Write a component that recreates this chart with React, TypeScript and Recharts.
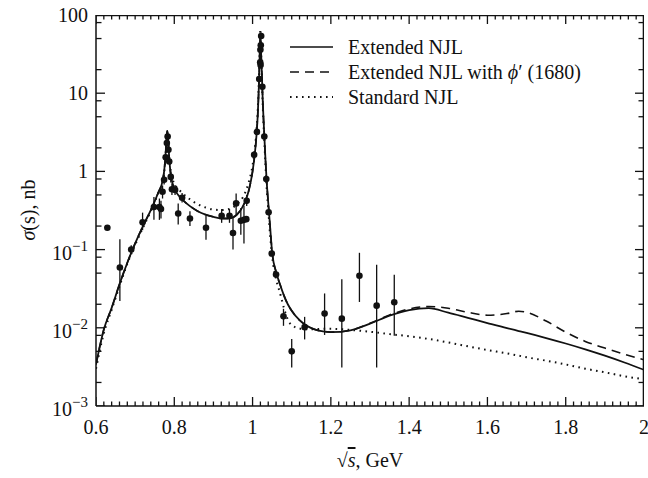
import React from 'react';
import { ComposedChart, Line, Scatter, ErrorBar, XAxis, YAxis, Legend } from 'recharts';

const FONT = '"Liberation Serif", "Times New Roman", Times, serif';

// ---- curves ----
const curveX = [
  0.6, 0.62, 0.64, 0.66, 0.68, 0.7, 0.72, 0.74, 0.76,
  0.77, 0.774, 0.777, 0.779, 0.781, 0.782, 0.783, 0.785, 0.787, 0.79, 0.795,
  0.8, 0.81, 0.82, 0.84, 0.86, 0.88, 0.9, 0.92, 0.94, 0.96, 0.98, 0.99,
  1.0, 1.005, 1.01, 1.013, 1.016, 1.018, 1.019, 1.02, 1.021, 1.022, 1.024, 1.026, 1.028, 1.03, 1.033, 1.036, 1.04, 1.045, 1.05,
  1.06, 1.07, 1.08, 1.09, 1.1, 1.12, 1.14, 1.16, 1.18, 1.2,
  1.25, 1.3, 1.35, 1.4, 1.45, 1.5, 1.55, 1.6, 1.65, 1.68, 1.7, 1.75, 1.8, 1.85, 1.9, 1.95, 2.0,
];

const extendedNJL = [
  0.0034, 0.0095, 0.018, 0.036, 0.068, 0.12, 0.2, 0.32, 0.55,
  0.75, 1.0, 1.45, 2.1, 3.0, 3.3, 3.1, 2.2, 1.5, 1.0, 0.72,
  0.6, 0.5, 0.44, 0.36, 0.31, 0.28, 0.262, 0.25, 0.25, 0.28, 0.4, 0.56,
  1.0, 1.55, 2.9, 5.0, 12, 28, 45, 57, 46, 30, 16, 8, 4.6, 2.9, 1.4, 0.75, 0.4, 0.19, 0.092,
  0.052, 0.036, 0.026, 0.02, 0.0165, 0.0125, 0.0105, 0.0095, 0.009, 0.0088,
  0.0093, 0.0113, 0.0143, 0.0168, 0.0178, 0.0156, 0.0134, 0.0115, 0.0099, 0.0091, 0.0086, 0.0074, 0.0063, 0.0053, 0.0044, 0.0036, 0.0029,
];

const extendedPhi = [
  0.0034, 0.0095, 0.018, 0.036, 0.068, 0.12, 0.2, 0.32, 0.55,
  0.75, 1.0, 1.45, 2.1, 3.0, 3.3, 3.1, 2.2, 1.5, 1.0, 0.72,
  0.6, 0.5, 0.44, 0.36, 0.31, 0.28, 0.262, 0.25, 0.25, 0.28, 0.4, 0.56,
  1.0, 1.55, 2.9, 5.0, 12, 28, 45, 57, 46, 30, 16, 8, 4.6, 2.9, 1.4, 0.75, 0.4, 0.19, 0.092,
  0.052, 0.036, 0.026, 0.02, 0.0165, 0.0125, 0.0105, 0.0095, 0.009, 0.0088,
  0.0093, 0.0114, 0.0146, 0.0174, 0.0187, 0.0178, 0.0158, 0.0145, 0.0152, 0.0163, 0.0158, 0.0122, 0.0088, 0.0067, 0.0055, 0.0046, 0.0039,
];

const standardNJL = [
  0.003, 0.0085, 0.017, 0.034, 0.066, 0.115, 0.19, 0.31, 0.54,
  0.72, 0.95, 1.4, 2.0, 2.7, 3.0, 2.8, 2.1, 1.55, 1.1, 0.82,
  0.7, 0.6, 0.53, 0.44, 0.38, 0.345, 0.325, 0.32, 0.33, 0.38, 0.52, 0.72,
  1.2, 1.8, 3.3, 5.8, 14, 32, 52, 66, 52, 32, 14, 7, 4, 2.5, 1.2, 0.62, 0.33, 0.15, 0.082,
  0.042, 0.028, 0.018, 0.0128, 0.0108, 0.0098, 0.0096, 0.0096, 0.0097, 0.0097,
  0.0094, 0.0089, 0.0083, 0.0078, 0.0072, 0.0065, 0.0058, 0.0052, 0.0047, 0.0044, 0.0042, 0.0038, 0.0034, 0.003, 0.0027, 0.0024, 0.0022,
];

// ---- experimental points ----
const dataX = [
  0.629, 0.661, 0.69, 0.719, 0.748, 0.762, 0.766, 0.77, 0.774, 0.778, 0.781, 0.783, 0.785, 0.787,
  0.791, 0.794, 0.802, 0.81, 0.82, 0.84, 0.881, 0.921, 0.941, 0.95, 0.958, 0.97, 0.978, 0.984, 0.985,
  1.004, 1.011, 1.017, 1.0195, 1.0205, 1.02, 1.021, 1.022, 1.025, 1.03, 1.035, 1.041, 1.049, 1.06,
  1.079, 1.1, 1.133, 1.184, 1.228, 1.273, 1.317, 1.362,
];
const dataY = [
  0.19, 0.059, 0.1, 0.223, 0.35, 0.35, 0.33, 0.55, 0.78, 1.52, 2.3, 2.8, 1.89, 1.34,
  0.85, 0.59, 0.58, 0.29, 0.46, 0.25, 0.19, 0.27, 0.27, 0.163, 0.39, 0.234, 0.24, 0.245, 0.42,
  1.63, 3.2, 15.2, 24.9, 23, 36, 41, 54, 12.1, 2.8, 0.8, 0.3, 0.089, 0.048,
  0.014, 0.005, 0.0102, 0.0152, 0.0131, 0.0464, 0.0192, 0.0212,
];
const errLow = [
  0.19, 0.022, 0.088, 0.177, 0.24, 0.24, 0.25, 0.45, 0.68, 1.52, 2.3, 2.8, 1.89, 1.34,
  0.72, 0.5, 0.5, 0.21, 0.4, 0.2, 0.134, 0.22, 0.22, 0.1, 0.28, 0.155, 0.12, 0.245, 0.36,
  1.63, 3.2, 15.2, 24.9, 23, 36, 41, 54, 12.1, 2.8, 0.8, 0.3, 0.089, 0.048,
  0.0106, 0.0031, 0.0071, 0.0081, 0.0031, 0.0214, 0.0031, 0.0079,
];
const errHigh = [
  0.19, 0.136, 0.114, 0.297, 0.47, 0.45, 0.42, 0.66, 0.9, 1.52, 2.3, 2.8, 1.89, 1.34,
  1.0, 0.7, 0.67, 0.39, 0.53, 0.31, 0.27, 0.33, 0.33, 0.27, 0.52, 0.34, 0.36, 0.245, 0.5,
  1.63, 3.2, 15.2, 24.9, 23, 36, 41, 54, 12.1, 2.8, 0.8, 0.3, 0.089, 0.048,
  0.0175, 0.0072, 0.0138, 0.0275, 0.0418, 0.091, 0.064, 0.0477,
];

// ---- ticks ----
const xMin = 0.6;
const xMax = 2;
const yMin = 0.001;
const yMax = 100;
const xMajorTicks = [0.6, 0.8, 1, 1.2, 1.4, 1.6, 1.8, 2];
const xTickLabels = ['0.6', '0.8', '1', '1.2', '1.4', '1.6', '1.8', '2'];
const yMajorTicks = [0.001, 0.01, 0.1, 1, 10, 100];
const yTickBases = ['10', '10', '10', '1', '10', '100'];
const yTickExps = ['\u22123', '\u22122', '\u22121', '', '', ''];
const yMinorFactors = [2, 5, 8];

const legendLabels = ['Extended NJL', 'Extended NJL with ', 'Standard NJL'];

const xTicks = Array.from({ length: 71 }, (_, i) => Number((0.6 + i * 0.02).toFixed(2)));
const yTicks: number[] = [];
for (let e = -3; e <= 1; e++) {
  yTicks.push(Number((10 ** e).toPrecision(3)));
  yMinorFactors.forEach((f) => yTicks.push(Number((f * 10 ** e).toPrecision(3))));
}
yTicks.push(100);

const xMajorIndex = (v: number) => xMajorTicks.findIndex((m) => Math.abs(m - v) < 1e-6);
const yMajorIndex = (v: number) => yMajorTicks.findIndex((m) => Math.abs(m - v) / m < 1e-6);

const curveRows = curveX.map((x, i) => ({ x, ext: extendedNJL[i], phi: extendedPhi[i], std: standardNJL[i] }));
const pointRows = dataX.map((x, i) => ({ x, y: dataY[i], err: [dataY[i] - errLow[i], errHigh[i] - dataY[i]] }));

// tick-mark anchors (placed through the chart's own scales)
const bottomMarks = xTicks.map((v) => ({ x: v, y: yMin, major: xMajorIndex(v) >= 0 }));
const topMarks = xTicks.map((v) => ({ x: v, y: yMax, major: xMajorIndex(v) >= 0 }));
const leftMarks = yTicks.map((v) => ({ x: xMin, y: v, major: yMajorIndex(v) >= 0 }));
const rightMarks = yTicks.map((v) => ({ x: xMax, y: v, major: yMajorIndex(v) >= 0 }));
const topEdge = [{ x: xMin, y: yMax }, { x: xMax, y: yMax }];
const rightEdge = [{ x: xMax, y: yMin }, { x: xMax, y: yMax }];

const MAJ = 9;
const MIN_X = 4.5;
const MIN_Y = 5.5;
const TICK_STYLE = { stroke: '#111111', strokeWidth: 1.3 };

const BottomMark = (p: any) => (
  <line x1={p.cx} x2={p.cx} y1={p.cy} y2={p.cy - (p.payload.major ? MAJ : MIN_X)} {...TICK_STYLE} />
);
const TopMark = (p: any) => (
  <line x1={p.cx} x2={p.cx} y1={p.cy} y2={p.cy + (p.payload.major ? MAJ : MIN_X)} {...TICK_STYLE} />
);
const LeftMark = (p: any) => (
  <line x1={p.cx} x2={p.cx + (p.payload.major ? MAJ : MIN_Y)} y1={p.cy} y2={p.cy} {...TICK_STYLE} />
);
const RightMark = (p: any) => (
  <line x1={p.cx} x2={p.cx - (p.payload.major ? MAJ : MIN_Y)} y1={p.cy} y2={p.cy} {...TICK_STYLE} />
);
const NoShape = () => <g />;

// axis tick labels
const BottomTick = (props: any) => {
  const { x, y, payload } = props;
  const i = xMajorIndex(payload.value);
  return (
    <g>
      {i >= 0 ? (
        <text x={x} y={y + 28} textAnchor="middle" fontFamily={FONT} fontSize={20} fill="#111">
          {xTickLabels[i]}
        </text>
      ) : null}
    </g>
  );
};

const LeftTick = (props: any) => {
  const { x, y, payload } = props;
  const i = yMajorIndex(payload.value);
  return (
    <g>
      {i >= 0 ? (
        yTickExps[i] ? (
          <text x={x - 8} y={y + 10} textAnchor="end" fontFamily={FONT} fontSize={20} fill="#111">
            {yTickBases[i]}
            <tspan dy={-9} fontSize={15}>
              {yTickExps[i]}
            </tspan>
          </text>
        ) : (
          <text x={x - 8} y={y + 7} textAnchor="end" fontFamily={FONT} fontSize={20} fill="#111">
            {yTickBases[i]}
          </text>
        )
      ) : null}
    </g>
  );
};

const XTitle = () => (
  <text x={370} y={467} textAnchor="middle" fontFamily={FONT} fontSize={20} fill="#111">
    {'\u221A'}
    <tspan fontStyle="italic" textDecoration="overline">s</tspan>
    {', GeV'}
  </text>
);

const YTitle = () => (
  <text x={35} y={210} transform="rotate(-90 35 210)" textAnchor="middle" fontFamily={FONT} fontSize={20} fill="#111">
    <tspan fontStyle="italic">{'\u03C3'}</tspan>
    {'(s), nb'}
  </text>
);

const LegendBox = () => {
  const dashes = [undefined, '9 6', '1.6 4.4'];
  return (
    <svg width={360} height={80} style={{ display: 'block', overflow: 'visible' }}>
      {legendLabels.map((lab, i) => {
        const cy = 14 + 25 * i;
        return (
          <g key={i}>
            <line x1={8} x2={51} y1={cy} y2={cy} stroke="#111" strokeWidth={i === 2 ? 2 : 1.7} strokeDasharray={dashes[i]} />
            <text x={66} y={cy + 7} fontFamily={FONT} fontSize={20} fill="#111">
              {lab}
              {i === 1 ? <tspan fontStyle="italic">{'\u03D5'}</tspan> : null}
              {i === 1 ? '\u2032 (1680)' : null}
            </text>
          </g>
        );
      })}
    </svg>
  );
};

export default function App() {
  return (
    <div style={{ position: 'absolute', left: 0, top: 0, width: 648, height: 478, background: '#fff' }}>
      <ComposedChart width={648} height={478} data={curveRows} margin={{ top: 15, right: 4, left: 0, bottom: 0 }}>
        <XAxis
          xAxisId="b"
          dataKey="x"
          type="number"
          domain={[xMin, xMax]}
          allowDataOverflow
          ticks={xTicks}
          interval={0}
          tickSize={0}
          tickMargin={0}
          tickLine={false}
          tick={<BottomTick />}
          height={72}
          axisLine={{ stroke: '#111', strokeWidth: 1.5 }}
          label={<XTitle />}
        />
        <YAxis
          yAxisId="l"
          type="number"
          scale="log"
          domain={[yMin, yMax]}
          allowDataOverflow
          ticks={yTicks}
          interval={0}
          tickSize={0}
          tickMargin={0}
          tickLine={false}
          tick={<LeftTick />}
          width={96}
          axisLine={{ stroke: '#111', strokeWidth: 1.5 }}
          label={<YTitle />}
        />
        <Legend
          content={<LegendBox />}
          layout="vertical"
          align="center"
          verticalAlign="middle"
          wrapperStyle={{ left: 282, top: 33, width: 360, height: 80 }}
        />
        <Scatter xAxisId="b" yAxisId="l" data={topEdge} dataKey="y" line={{ stroke: '#111', strokeWidth: 2.6 }} shape={NoShape} legendType="none" isAnimationActive={false} />
        <Scatter xAxisId="b" yAxisId="l" data={rightEdge} dataKey="y" line={{ stroke: '#111', strokeWidth: 2.6 }} shape={NoShape} legendType="none" isAnimationActive={false} />
        <Scatter xAxisId="b" yAxisId="l" data={bottomMarks} dataKey="y" shape={BottomMark} legendType="none" isAnimationActive={false} />
        <Scatter xAxisId="b" yAxisId="l" data={topMarks} dataKey="y" shape={TopMark} legendType="none" isAnimationActive={false} />
        <Scatter xAxisId="b" yAxisId="l" data={leftMarks} dataKey="y" shape={LeftMark} legendType="none" isAnimationActive={false} />
        <Scatter xAxisId="b" yAxisId="l" data={rightMarks} dataKey="y" shape={RightMark} legendType="none" isAnimationActive={false} />
        <Line xAxisId="b" yAxisId="l" type="monotone" dataKey="std" stroke="#111" strokeWidth={2} strokeDasharray="1.6 4.4" dot={false} activeDot={false} isAnimationActive={false} />
        <Line xAxisId="b" yAxisId="l" type="monotone" dataKey="phi" stroke="#111" strokeWidth={1.6} strokeDasharray="9 6" dot={false} activeDot={false} isAnimationActive={false} />
        <Line xAxisId="b" yAxisId="l" type="monotone" dataKey="ext" stroke="#111" strokeWidth={1.8} dot={false} activeDot={false} isAnimationActive={false} />
        <Scatter
          xAxisId="b"
          yAxisId="l"
          data={pointRows}
          dataKey="y"
          isAnimationActive={false}
          legendType="none"
          shape={(p: any) => <circle cx={p.cx} cy={p.cy} r={3.3} fill="#111" />}
        >
          <ErrorBar dataKey="err" direction="y" width={0} stroke="#111" strokeWidth={1.3} isAnimationActive={false} />
        </Scatter>
      </ComposedChart>
    </div>
  );
}
